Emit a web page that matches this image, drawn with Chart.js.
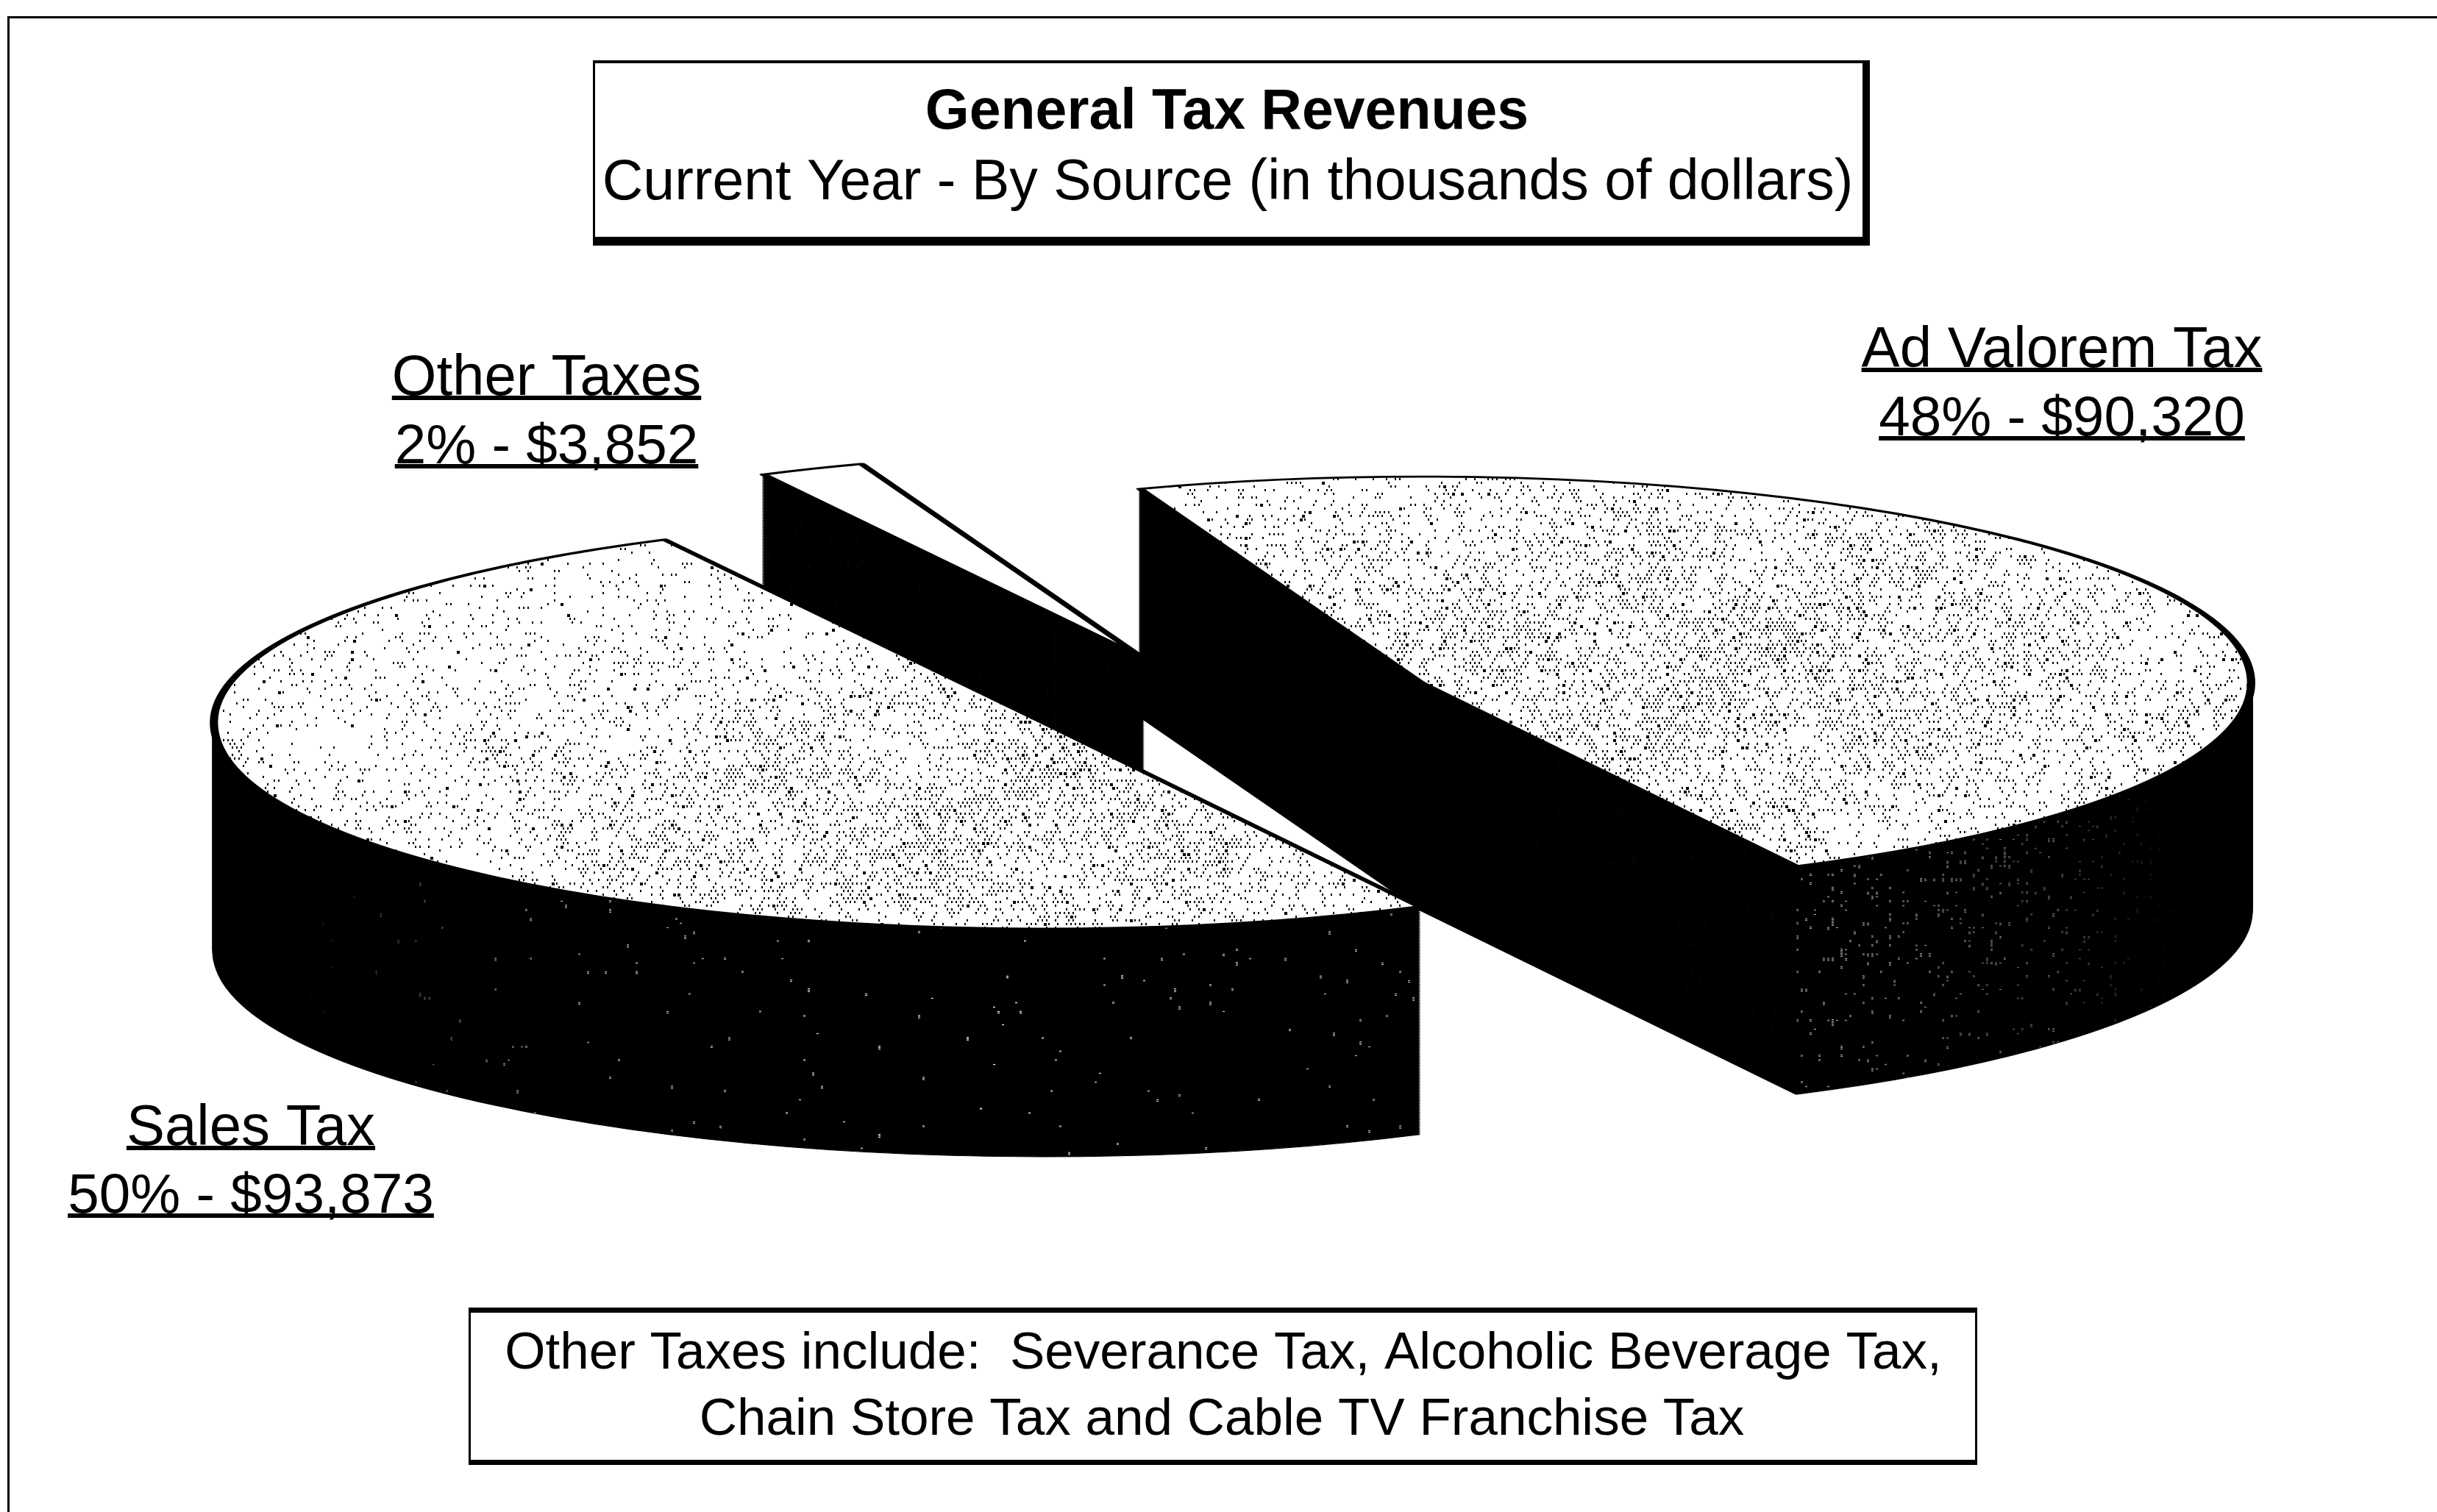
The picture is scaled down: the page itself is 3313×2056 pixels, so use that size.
<!DOCTYPE html>
<html>
<head>
<meta charset="utf-8">
<title>General Tax Revenues</title>
<script src="https://cdn.jsdelivr.net/npm/chart.js@4/dist/chart.umd.min.js"></script>
<style>
  html, body { margin: 0; padding: 0; background: #fff; }
  canvas { display: block; }
</style>
</head>
<body>
<canvas id="pie" width="3313" height="2056"></canvas>
<script>
// Revenue by source, in thousands of dollars
const categories = ['Ad Valorem Tax', 'Sales Tax', 'Other Taxes'];
const revenues = [90320, 93873, 3852];
const titleLines = ['General Tax Revenues', 'Current Year - By Source (in thousands of dollars)'];
const noteLines = ['Other Taxes include:  Severance Tax, Alcoholic Beverage Tax,', 'Chain Store Tax and Cable TV Franchise Tax'];

// Pie geometry: projection of the flat disc, wall height, paint order (back to front)
const W = 3313, H = 2056;
const discRadius = 500;
const pieOrigin = { x: 1663, y: 957 };
const projX = 1128, projY = 280;
const wallHeight = 310;
const explodeFractions = [0.26, 0.243, 0.244];
const sliceLift = [0, -5, 0];
const paintOrder = [2, 0, 1];

// Label anchors: [centre x, first baseline, second baseline]
const labelAnchors = [[2803, 499, 592], [341, 1557, 1649], [743, 537, 630]];

function noise(seed) {
  let s = seed >>> 0;
  return () => {
    s = (s * 1664525 + 1013904223) >>> 0;
    return (s >>> 8) / 16777216;
  };
}

function bump(x, y, cx, cy, rx, ry) {
  const dx = (x - cx) / rx, dy = (y - cy) / ry;
  return Math.exp(-dx * dx - dy * dy);
}

// Stippled shading of the slice tops
function stippleTile() {
  const c = document.createElement('canvas');
  c.width = W; c.height = H;
  const g = c.getContext('2d');
  g.fillStyle = '#fff'; g.fillRect(0, 0, W, H);
  g.fillStyle = '#000';
  const r = noise(71);
  let row = 0;
  for (let y = 0; y < H; y += 5, row++) {
    for (let x = (row % 2) * 3; x < W; x += 6) {
      const d = Math.max(bump(x, y, 1300, 1130, 600, 190), bump(x, y, 2330, 900, 680, 240));
      const cluster = 0.76 + 0.24 * Math.sin(x / 61) * Math.sin(y / 43);
      if (r() < (0.17 + 0.5 * d) * cluster) {
        const big = r() < 0.06;
        g.fillRect(x, y, big ? 4 : 2, big ? 4 : 3);
      }
    }
  }
  return c;
}

// Dark grain of the slice walls
function wallTile() {
  const c = document.createElement('canvas');
  c.width = W; c.height = H;
  const g = c.getContext('2d');
  g.fillStyle = '#000'; g.fillRect(0, 0, W, H);
  g.fillStyle = '#fff';
  const r = noise(23);
  for (let y = 0; y < H; y += 6) {
    for (let x = 0; x < W; x += 6) {
      const d = Math.max(
        bump(x, y, 2650, 1230, 420, 200),
        bump(x, y, 1160, 780, 110, 100) * 0.9,
        bump(x, y, 1750, 950, 260, 70) * 0.7,
        bump(x, y, 2250, 1050, 300, 110) * 0.6
      );
      if (r() < 0.012 + 0.13 * d) g.fillRect(x, y, 3, r() < 0.3 ? 5 : 3);
    }
  }
  // thin pale scan lines crossing the walls
  g.fillStyle = '#bbb';
  for (let y = 1014; y < 1385; y += 9) g.fillRect(349, y, 2, 7);
  for (let y = 832; y < 992; y += 9) g.fillRect(1433, y, 2, 7);
  return c;
}

const probe = document.getElementById('pie').getContext('2d');
const topPattern = probe.createPattern(stippleTile(), 'repeat');
const wallPattern = probe.createPattern(wallTile(), 'repeat');

// Places a slice on the page: tilt the disc, then pull the slice out along its mid-angle
function project(ctx, el, i, drop) {
  const mid = (el.startAngle + el.endAngle) / 2;
  const pull = explodeFractions[i] * el.outerRadius;
  ctx.translate(pieOrigin.x, pieOrigin.y + sliceLift[i] + drop);
  ctx.transform(projX / discRadius, 0, 0, projY / discRadius, 0, 0);
  ctx.translate(Math.cos(mid) * pull - el.x, Math.sin(mid) * pull - el.y);
}

const tiltedPie = {
  id: 'tiltedPie',
  beforeDatasetsDraw(chart) {
    const ctx = chart.ctx;
    const arcs = chart.getDatasetMeta(0).data;
    paintOrder.forEach(i => {
      const el = arcs[i];
      const wall = Object.create(el);
      wall.options = Object.assign({}, el.options, {
        backgroundColor: wallPattern, borderColor: '#000', borderWidth: 2
      });
      for (let drop = wallHeight; drop > 0; drop -= 2) {
        ctx.save();
        project(ctx, el, i, drop);
        wallPattern.setTransform(ctx.getTransform().inverse());
        wall.draw(ctx);
        ctx.restore();
      }
      ctx.save();
      project(ctx, el, i, 0);
      topPattern.setTransform(ctx.getTransform().inverse());
      el.draw(ctx);
      ctx.restore();
    });
    return false;
  },
  afterDraw(chart) {
    const ctx = chart.ctx;
    ctx.save();
    ctx.fillStyle = '#000';
    // page rule
    ctx.fillRect(10, 22, W - 10, 3);
    ctx.fillRect(10, 22, 3, H - 22);

    // heading box with its drop shadow
    ctx.fillRect(806, 82, 1732, 4);
    ctx.fillRect(806, 82, 3, 248);
    ctx.fillRect(2532, 82, 10, 252);
    ctx.fillRect(806, 322, 1736, 12);
    // footnote box
    ctx.fillRect(637, 1778, 2051, 7);
    ctx.fillRect(637, 1985, 2051, 7);
    ctx.fillRect(637, 1778, 3, 212);
    ctx.fillRect(2685, 1778, 3, 212);

    ctx.textAlign = 'center';
    ctx.textBaseline = 'alphabetic';
    ctx.font = 'bold 77px "Liberation Sans"';
    ctx.fillText(titleLines[0], 1668, 175);
    ctx.font = '77px "Liberation Sans"';
    ctx.fillText(titleLines[1], 1669, 271);

    ctx.font = '71px "Liberation Sans"';
    ctx.fillText(noteLines[0], 1663, 1861);
    ctx.fillText(noteLines[1], 1661, 1951);

    // underlined slice captions
    const total = revenues.reduce((a, b) => a + b, 0);
    categories.forEach((name, i) => {
      const pct = Math.round(revenues[i] / total * 100);
      const lines = [name, pct + '% - $' + revenues[i].toLocaleString('en-US')];
      const a = labelAnchors[i];
      lines.forEach((t, k) => {
        const y = a[k + 1];
        ctx.font = (k === 0 ? 78 : 76.5) + 'px "Liberation Sans"';
        ctx.fillText(t, a[0], y);
        const w = ctx.measureText(t).width;
        ctx.fillRect(a[0] - w / 2, y + 1, w, 6);
      });
    });
    ctx.restore();
  }
};

new Chart(document.getElementById('pie'), {
  type: 'pie',
  data: {
    labels: categories,
    datasets: [{
      data: revenues,
      backgroundColor: [topPattern, topPattern, '#fff'],
      borderColor: '#000',
      borderWidth: 5,
      borderJoinStyle: 'round',
      hoverOffset: 0
    }]
  },
  options: {
    responsive: false,
    animation: false,
    radius: discRadius,
    rotation: 340.2,
    layout: { padding: 0 },
    events: [],
    plugins: { legend: { display: false }, tooltip: { enabled: false }, title: { display: false } }
  },
  plugins: [tiltedPie]
});
</script>
</body>
</html>
